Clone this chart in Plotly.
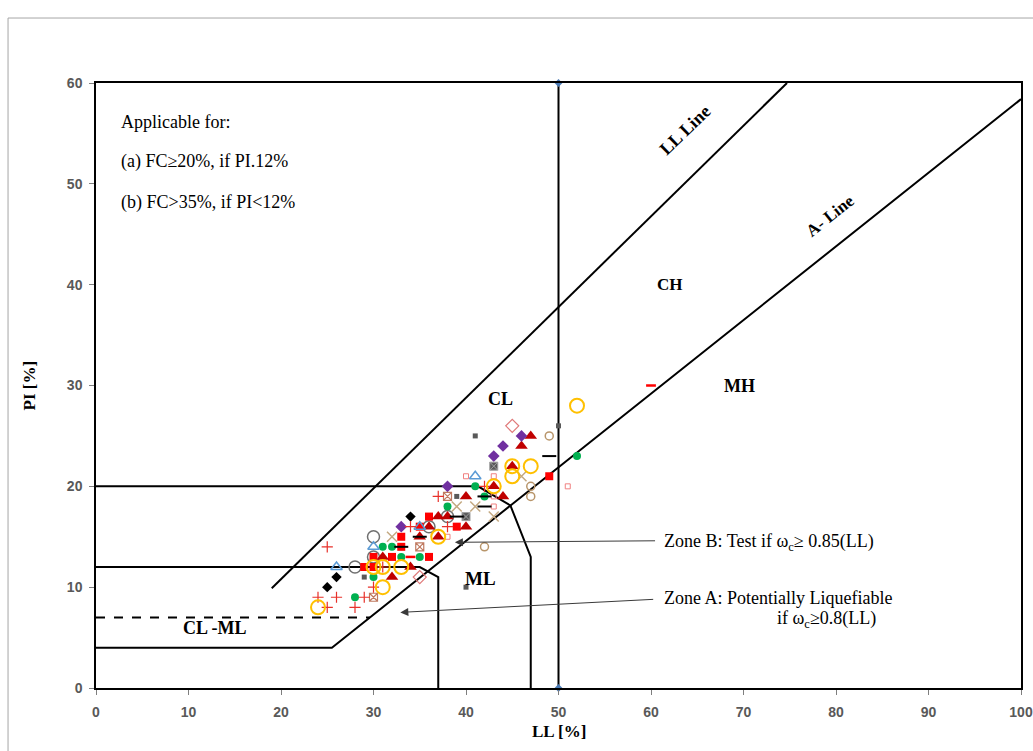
import plotly.graph_objects as go

# ---- chart boundaries (LL, PI) ----
u_line_ll = [19, 74.7]
u_line_pi = [9.9, 60]
a_line_ll = [0, 25.5, 100]
a_line_pi = [4, 4, 58.4]
ll50_ll = [50, 50]
ll50_pi = [0, 60]
zone_a_ll = [0, 35, 37, 37]
zone_a_pi = [12, 12, 11, 0]
zone_b_ll = [0, 41.3, 44.8, 47, 47]
zone_b_pi = [20, 20, 18.1, 13, 0]
clml_ll = [0, 29.6]
clml_pi = [7, 7]

# ---- test results (LL, PI) ----
red_plus_ll = [25, 24, 26, 29, 25, 28, 30, 31, 34, 37, 38, 42]
red_plus_pi = [14, 9, 9, 9, 8, 8, 10, 12, 16, 19, 16, 20]
black_dia_ll = [25, 26, 34]
black_dia_pi = [10, 11, 17]
purple_dia_ll = [46, 44, 43, 38, 33]
purple_dia_pi = [25, 24, 23, 20, 16]
tri_ll = [47, 46, 45, 43, 44, 40, 37, 38, 36, 40, 35, 37, 31, 34, 32]
tri_pi = [25, 24, 22, 20, 19, 19, 17, 17, 16, 16, 15, 15, 13, 12, 11]
red_sq_ll = [49, 36, 35, 33, 33, 30, 32, 36, 29, 30, 39]
red_sq_pi = [21, 17, 16, 15, 14, 13, 13, 13, 12, 12, 16]
green_ll = [52, 41, 42, 38, 31, 32, 33, 35, 30, 28]
green_pi = [23, 20, 19, 18, 14, 14, 13, 13, 11, 9]
yellow_ll = [52, 45, 47, 45, 43, 37, 30, 31, 33, 31, 24]
yellow_pi = [28, 22, 22, 21, 20, 15, 12, 12, 12, 10, 8]
gray_circ_ll = [30, 28, 30, 38, 36]
gray_circ_pi = [15, 12, 13, 17, 16]
blue_tri_ll = [41, 30, 26, 35]
blue_tri_pi = [21, 14, 12, 16]
tan_x_ll = [46, 39, 41, 43, 32]
tan_x_pi = [21, 18, 18, 17, 15]
pink_sq_ll = [40, 43, 51, 43, 43, 38]
pink_sq_pi = [21, 21, 20, 19, 18, 15]
pink_dia_ll = [45, 35]
pink_dia_pi = [26, 11]
gray_sq_ll = [41, 50, 39, 29, 40]
gray_sq_pi = [25, 26, 19, 11, 10]
black_dash_ll = [49, 42, 35, 39, 33, 42]
black_dash_pi = [23, 18, 15, 17, 14, 19]
tan_circ_ll = [49, 47, 47, 42]
tan_circ_pi = [25, 20, 19, 14]
brown_sqx_ll = [38, 35, 30]
brown_sqx_pi = [19, 14, 9]
gray_sqx_ll = [43, 40]
gray_sqx_pi = [22, 17]
red_dash_ll = [60, 34]
red_dash_pi = [30, 13]

x_ticks = [0, 10, 20, 30, 40, 50, 60, 70, 80, 90, 100]
y_ticks = [0, 10, 20, 30, 40, 50, 60]

SERIF = "Liberation Serif, Times New Roman, serif"

fig = go.Figure()


def boundary(x, y, dash="solid", width=2):
    fig.add_trace(go.Scatter(x=x, y=y, mode="lines",
                             line=dict(color="black", width=width, dash=dash),
                             hoverinfo="skip", showlegend=False))


boundary(u_line_ll, u_line_pi)
boundary(a_line_ll, a_line_pi)
boundary(zone_a_ll, zone_a_pi)
boundary(zone_b_ll, zone_b_pi)
boundary(clml_ll, clml_pi, dash="dash")
fig.add_trace(go.Scatter(x=ll50_ll, y=ll50_pi, mode="lines+markers",
                         line=dict(color="black", width=2),
                         marker=dict(symbol="diamond", size=6, color="#4a7ab5"),
                         hoverinfo="skip", showlegend=False, cliponaxis=False))


def points(x, y, symbol, size, color, line_color=None, line_width=0):
    fig.add_trace(go.Scatter(
        x=x, y=y, mode="markers", showlegend=False,
        marker=dict(symbol=symbol, size=size, color=color,
                    line=dict(color=line_color or color, width=line_width))))


points(tan_circ_ll, tan_circ_pi, "circle-open", 8, "#b8956a", line_width=1.5)
points(gray_circ_ll, gray_circ_pi, "circle-open", 12, "#6f6f6f", line_width=1.5)
points(green_ll, green_pi, "circle", 8, "#00b050")
points(red_sq_ll, red_sq_pi, "square", 8, "#ff0000")
points(tri_ll, tri_pi, "triangle-up", 11, "#c00000")
points(purple_dia_ll, purple_dia_pi, "diamond", 9, "#7030a0")
points(black_dia_ll, black_dia_pi, "diamond", 8, "#000000")
points(blue_tri_ll, blue_tri_pi, "triangle-up-open", 10, "#5b9bd5", line_width=1.5)
points(tan_x_ll, tan_x_pi, "x-thin-open", 10, "#c4a982", line_width=1.5)
points(pink_sq_ll, pink_sq_pi, "square-open", 5, "#f08080", line_width=1)
points(pink_dia_ll, pink_dia_pi, "diamond-open", 10, "#e07a7a", line_width=1.2)
points(gray_sq_ll, gray_sq_pi, "square", 5, "#595959")
points(brown_sqx_ll, brown_sqx_pi, "square-x-open", 8, "#c07a60", line_width=1.2)
points(gray_sqx_ll, gray_sqx_pi, "square-x", 8, "#595959", line_color="#a0a0a0", line_width=1)
points(red_plus_ll, red_plus_pi, "cross-thin-open", 8, "#e8302a", line_width=1.2)
points(black_dash_ll, black_dash_pi, "line-ew-open", 10, "#000000", line_width=2)
points(red_dash_ll, red_dash_pi, "line-ew-open", 7, "#ff0000", line_width=2.5)
points(yellow_ll, yellow_pi, "circle-open", 14, "#ffc000", line_width=2)

annotations = []


def label(text, x, y, size=16, bold=True, angle=0, xanchor="center"):
    if bold:
        text = "<b>" + text + "</b>"
    annotations.append(dict(text=text, x=x, y=y, xref="x", yref="y",
                            showarrow=False, textangle=angle, xanchor=xanchor,
                            font=dict(family=SERIF, size=size, color="black")))


label("LL Line", 63.7, 55.3, size=18, angle=-44)
label("A- Line", 79.4, 46.9, size=17, angle=-38.5)
label("CH", 62.1, 40.0, size=17)
label("MH", 69.6, 30.0, size=18)
label("CL", 43.7, 28.7, size=18)
label("ML", 41.6, 10.9, size=19)
label("CL -ML", 12.9, 6.0, size=18)
label("Applicable for:", 2.5, 56.1, size=18, bold=False, xanchor="left")
label("(a) FC≥20%, if PI.12%", 2.5, 52.2, size=18, bold=False, xanchor="left")
label("(b) FC>35%, if PI<12%", 2.5, 48.1, size=18, bold=False, xanchor="left")
label("Zone B: Test if ω<sub>c</sub>≥ 0.85(LL)", 61.2, 14.4, size=18, bold=False, xanchor="left")
label("Zone A: Potentially Liquefiable", 61.2, 8.9, size=18, bold=False, xanchor="left")
label("if ω<sub>c</sub>≥0.8(LL)", 73.4, 6.8, size=18, bold=False, xanchor="left")

# pointers from the zone notes to their zones
for head, tail in [((38.8, 14.45), (60.6, 14.6)), ((32.9, 7.5), (60.4, 8.8))]:
    annotations.append(dict(x=head[0], y=head[1], ax=tail[0], ay=tail[1],
                            xref="x", yref="y", axref="x", ayref="y",
                            text="", showarrow=True, arrowhead=2, arrowsize=1.6,
                            arrowwidth=1, arrowcolor="#3a3a3a"))

# axis titles
annotations.append(dict(text="<b>PI [%]</b>", x=-0.0714, y=0.5, xref="paper", yref="paper",
                        xanchor="center", yanchor="middle",
                        showarrow=False, textangle=-90,
                        font=dict(family=SERIF, size=17, color="black")))
annotations.append(dict(text="<b>LL [%]</b>", x=0.5, y=-0.0727, xref="paper", yref="paper",
                        xanchor="center", yanchor="middle",
                        showarrow=False, font=dict(family=SERIF, size=17, color="black")))

tick_font = dict(family="Liberation Sans Narrow, Arial Narrow, Liberation Sans, Arial",
                 size=14, color="#595959", weight="bold")

fig.update_layout(
    width=1033, height=751,
    margin=dict(l=96, r=12, t=83, b=63, autoexpand=False),
    paper_bgcolor="white", plot_bgcolor="white",
    annotations=annotations,
    shapes=[
        dict(type="line", xref="paper", yref="paper", x0=-0.0951, x1=1.03, y0=1.1074, y1=1.1074,
             line=dict(color="#a6a6a6", width=1)),
        dict(type="line", xref="paper", yref="paper", x0=-0.0951, x1=-0.0951, y0=1.1074, y1=-0.2,
             line=dict(color="#a6a6a6", width=1)),
    ],
    xaxis=dict(range=[0, 100], tickvals=x_ticks, showgrid=False, zeroline=False,
               showline=True, linecolor="black", linewidth=1.5, mirror=True, automargin=False,
               ticks="outside", ticklen=5, tickcolor="#7f7f7f", tickfont=tick_font,
               ticklabelstandoff=5),
    yaxis=dict(range=[0, 60], tickvals=y_ticks, showgrid=False, zeroline=False,
               showline=True, linecolor="black", linewidth=1.5, mirror=True, automargin=False,
               ticks="outside", ticklen=5, tickcolor="#7f7f7f", tickfont=tick_font,
               ticklabelstandoff=4),
)

fig.write_html("out.html")
